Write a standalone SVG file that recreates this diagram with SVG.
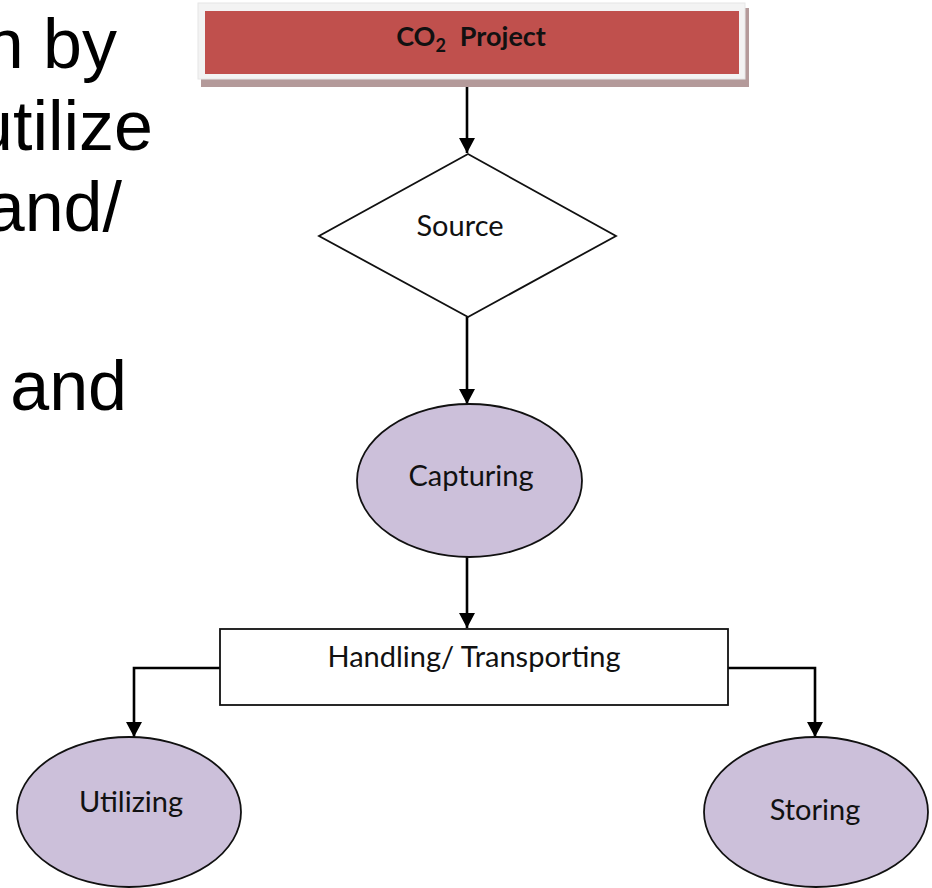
<svg xmlns="http://www.w3.org/2000/svg" width="932" height="888" viewBox="0 0 932 888">
<style>
.bg{fill:#ffffff}
.big{font-family:"Liberation Sans",Arial,sans-serif;font-size:70px;fill:#000}
.lbl{font-family:Lato,"Open Sans",sans-serif;font-size:29px;fill:#111;text-anchor:middle}
.title{font-family:Lato,"Open Sans",sans-serif;font-size:27px;font-weight:bold;fill:#111;text-anchor:middle}
.oval{fill:#ccc0da;stroke:#111;stroke-width:1.8}
.shape{fill:#ffffff;stroke:#111;stroke-width:1.8}
.conn{fill:none;stroke:#000;stroke-width:2.6}
</style>
<defs>
<marker id="arr" markerUnits="userSpaceOnUse" markerWidth="16" markerHeight="16" viewBox="0 0 16 16" refX="15" refY="8" orient="auto">
<path d="M0,0 L15,8 L0,16 Z" fill="#000"/>
</marker>
</defs>
<rect class="bg" x="0" y="0" width="932" height="888"/>
<g id="slide-text">
<text class="big" x="117" y="68" text-anchor="end">n by</text>
<text class="big" x="153" y="150" text-anchor="end">utilize</text>
<text class="big" x="122" y="231" text-anchor="end">and/</text>
<text class="big" x="127" y="410" text-anchor="end">and</text>
</g>
<g id="connectors">
<line class="conn" x1="467" y1="87" x2="467" y2="153" marker-end="url(#arr)"/>
<line class="conn" x1="467" y1="317" x2="467" y2="404" marker-end="url(#arr)"/>
<line class="conn" x1="467" y1="557" x2="467" y2="628" marker-end="url(#arr)"/>
<polyline class="conn" points="220,668 134,668 134,737" marker-end="url(#arr)"/>
<polyline class="conn" points="728,668 815,668 815,737" marker-end="url(#arr)"/>
</g>
<g id="co2-project">
<rect x="201" y="8" width="548" height="79" fill="#b49a9a"/>
<rect x="198" y="3" width="547" height="76" fill="#f3f3f3" stroke="#e6e6e6" stroke-width="1"/>
<rect x="205" y="11" width="534" height="63" fill="#c0504d"/>
<text class="title" x="471" y="46">CO<tspan font-size="18" dy="6">2</tspan><tspan dy="-6" dx="14">Project</tspan></text>
</g>
<g id="source">
<polygon class="shape" points="468,154 616,236 468,317 319,236"/>
<text class="lbl" x="460" y="236">Source</text>
</g>
<g id="capturing">
<ellipse class="oval" cx="469.5" cy="480.5" rx="112.5" ry="76.5"/>
<text class="lbl" x="471" y="486">Capturing</text>
</g>
<g id="handling">
<rect class="shape" x="220" y="629" width="508" height="76"/>
<text class="lbl" x="474" y="667">Handling/ Transporting</text>
</g>
<g id="utilizing">
<ellipse class="oval" cx="129" cy="812" rx="112" ry="75"/>
<text class="lbl" x="131" y="812">Utilizing</text>
</g>
<g id="storing">
<ellipse class="oval" cx="816" cy="812" rx="112" ry="75"/>
<text class="lbl" x="815" y="820">Storing</text>
</g>
</svg>
